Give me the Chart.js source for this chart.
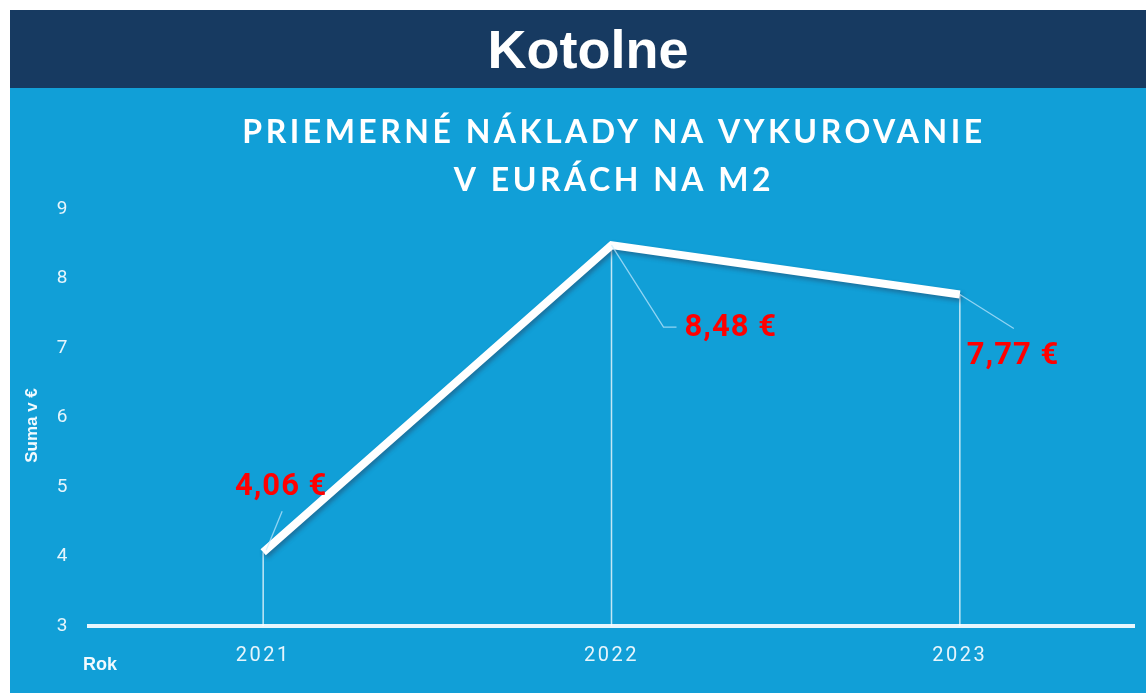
<!DOCTYPE html>
<html>
<head>
<meta charset="utf-8">
<script src="https://cdn.jsdelivr.net/npm/chart.js@4"></script>
<style>
  html, body { margin: 0; padding: 0; background: #fff; }
  body { width: 1146px; height: 693px; position: relative; overflow: hidden; }
  .header {
    position: absolute; left: 10px; top: 10px; width: 1136px; height: 78px;
    background: #173a61; color: #fff;
    font: bold 54px "Liberation Sans", Arial, sans-serif;
    display: flex; align-items: center; justify-content: center;
    box-sizing: border-box; padding-left: 20px;
  }
  .panel { position: absolute; left: 10px; top: 88px; width: 1136px; height: 605px; background: #119fd7; }
  canvas { position: absolute; left: 0; top: 0; }
</style>
</head>
<body>
<div class="header">Kotolne</div>
<div class="panel"><canvas id="chart" width="1136" height="605"></canvas></div>
<script>
// data
const years = ['2021', '2022', '2023'];
const avgCost = [4.06, 8.48, 7.77];
const costLabels = ['4,06 €', '8,48 €', '7,77 €'];
const titleLines = ['PRIEMERNÉ NÁKLADY NA VYKUROVANIE', 'V EURÁCH NA M2'];

// where each value label sits relative to its point (pixels)
const labelPlacement = [
  { dx: 18, dy: -65, align: 'center', lead: [[3, -2], [19, -41]] },
  { dx: 73, dy: 83, align: 'left', lead: [[0, 0], [52, 82], [65, 82]] },
  { dx: 7, dy: 62, align: 'left', lead: [[0, 0], [54, 34]] }
];

const decorPlugin = {
  id: 'decor',
  beforeDraw(chart) {
    chart.ctx.letterSpacing = '2.5px';
  },
  beforeDatasetsDraw(chart) {
    const ctx = chart.ctx;
    const meta = chart.getDatasetMeta(0);
    const bottom = chart.scales.y.getPixelForValue(3);
    ctx.save();
    ctx.strokeStyle = 'rgba(255,255,255,0.75)';
    ctx.lineWidth = 1.5;
    meta.data.forEach(p => {
      ctx.beginPath();
      ctx.moveTo(p.x, p.y);
      ctx.lineTo(p.x, bottom);
      ctx.stroke();
    });
    ctx.restore();
  },
  beforeDatasetDraw(chart) {
    const ctx = chart.ctx;
    ctx.save();
    ctx.shadowColor = 'rgba(40,60,90,0.45)';
    ctx.shadowBlur = 4;
    ctx.shadowOffsetX = 2;
    ctx.shadowOffsetY = 3;
  },
  afterDatasetDraw(chart) {
    chart.ctx.restore();
  },
  afterDraw(chart) {
    const ctx = chart.ctx;
    const meta = chart.getDatasetMeta(0);
    const area = chart.chartArea;
    ctx.save();
    // title
    ctx.letterSpacing = '3.5px';
    ctx.fillStyle = '#ffffff';
    ctx.font = 'bold 32px Lato, "Open Sans", sans-serif';
    ctx.textAlign = 'center';
    ctx.textBaseline = 'middle';
    ctx.fillText(titleLines[0], 604, 45);
    ctx.fillText(titleLines[1], 604, 93);

    // axis names
    ctx.letterSpacing = '0px';
    ctx.font = 'bold 18px "Liberation Sans", Arial, sans-serif';
    ctx.textAlign = 'left';
    ctx.fillStyle = '#f2fafe';
    ctx.fillText('Rok', 73, 577);
    ctx.save();
    ctx.translate(22, (area.top + area.bottom) / 2 + 8);
    ctx.rotate(-Math.PI / 2);
    ctx.textAlign = 'center';
    ctx.font = 'bold 17px "Liberation Sans Narrow", "Liberation Sans", Arial, sans-serif';
    ctx.fillText('Suma v €', 0, 0);
    ctx.restore();

    // value labels with leader lines
    meta.data.forEach((p, i) => {
      const lp = labelPlacement[i];
      ctx.strokeStyle = 'rgba(200,235,255,0.7)';
      ctx.lineWidth = 1.3;
      ctx.beginPath();
      lp.lead.forEach((pt, k) => {
        if (k === 0) ctx.moveTo(p.x + pt[0], p.y + pt[1]);
        else ctx.lineTo(p.x + pt[0], p.y + pt[1]);
      });
      ctx.stroke();
      ctx.fillStyle = '#ff0000';
      ctx.font = 'bold 31px Roboto, "Liberation Sans", sans-serif';
      ctx.letterSpacing = '1px';
      ctx.textAlign = lp.align;
      ctx.textBaseline = 'middle';
      ctx.fillText(costLabels[i], p.x + lp.dx, p.y + lp.dy);
    });
    ctx.restore();
  }
};

new Chart(document.getElementById('chart'), {
  type: 'line',
  data: {
    labels: years,
    datasets: [{
      data: avgCost,
      borderColor: '#ffffff',
      borderWidth: 8,
      borderJoinStyle: 'miter',
      pointRadius: 0,
      tension: 0
    }]
  },
  options: {
    responsive: false,
    animation: false,
    layout: { padding: { top: 121, right: 12, left: 0, bottom: 0 } },
    plugins: { legend: { display: false }, tooltip: { enabled: false } },
    scales: {
      x: {
        offset: true,
        grid: { display: false, drawTicks: false },
        border: { display: true, color: '#e8f6fd', width: 4 },
        ticks: { color: '#e6f5fc', font: { family: 'Roboto, sans-serif', size: 20 }, padding: 18 },
        afterFit(scale) { scale.height = 67; }
      },
      y: {
        min: 3,
        max: 9,
        grid: { display: false, drawTicks: false },
        border: { display: false },
        ticks: { stepSize: 1, color: '#e6f5fc', font: { family: 'Roboto, sans-serif', size: 19 }, padding: 19 },
        afterFit(scale) { scale.width = 79; }
      }
    }
  },
  plugins: [decorPlugin]
});
</script>
</body>
</html>
